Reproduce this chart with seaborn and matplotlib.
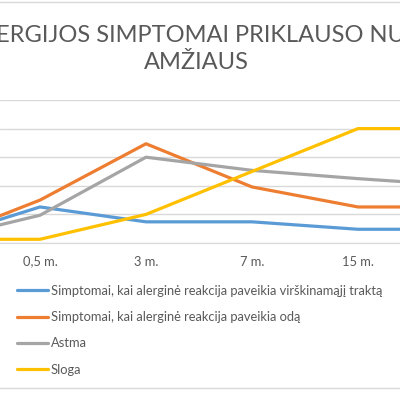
import pandas as pd
import seaborn as sns
import matplotlib.pyplot as plt
from matplotlib.lines import Line2D

# ages on the category axis (first and last fall outside the visible crop)
ages = ['0 m.', '0,5 m.', '3 m.', '7 m.', '15 m.', '20 m.']
series_names = ['Simptomai, kai alerginė reakcija paveikia virškinamąjį traktą',
                'Simptomai, kai alerginė reakcija paveikia odą',
                'Astma',
                'Sloga']
digestive = [1.0, 12.6, 7.4, 7.4, 4.8, 4.8]
skin = [0.5, 15.0, 34.7, 19.6, 12.6, 12.6]
asthma = [0.8, 9.7, 30.0, 25.4, 22.5, 20.0]
rhinitis = [1.3, 1.3, 10.0, 25.0, 40.0, 40.0]
colors = ['#5B9BD5', '#ED7D31', '#A5A5A5', '#FFC000']

rows = []
for name, vals in zip(series_names, [digestive, skin, asthma, rhinitis]):
    for age, v in zip(ages, vals):
        rows.append({'age': age, 'value': v, 'series': name})
df = pd.DataFrame(rows)

sns.set_style('white')
plt.rcParams['font.family'] = ['Lato', 'DejaVu Sans']

fig = plt.figure(figsize=(4, 3.93), dpi=100)
H = 393
ax = fig.add_axes([0, (H - 243) / H, 1, (243 - 100) / H])

sns.lineplot(data=df, x='age', y='value', hue='series', palette=colors,
             linewidth=2.3, sort=False, legend=False, ax=ax)

ax.set_xlim(0.6226, 4.3962)
ax.set_ylim(0, 50)
ax.set_yticks([0, 10, 20, 30, 40, 50])
ax.set_yticklabels([])
ax.grid(axis='y', color='#D9D9D9', linewidth=1)
ax.set_axisbelow(True)
for s in ['left', 'right', 'top']:
    ax.spines[s].set_visible(False)
ax.spines['bottom'].set_color('#D9D9D9')
ax.tick_params(axis='both', length=0)
ax.tick_params(axis='x', colors='#595959', labelsize=9.3, pad=9)
ax.set_xlabel('')
ax.set_ylabel('')

fig.text(0.49, 1 - 25 / H, 'ALERGIJOS SIMPTOMAI PRIKLAUSO NUO\nAMŽIAUS',
         ha='center', va='top', fontsize=17, color='#595959', linespacing=1.38)

handles = [Line2D([], [], color=c, linewidth=2.3) for c in colors]
fig.legend(handles, series_names, loc='upper left',
           bbox_to_anchor=(17 / 400, 1 - 285 / H), frameon=False,
           fontsize=9.3, labelcolor='#595959', handlelength=2.4,
           handletextpad=0.2, labelspacing=1.1, borderpad=0, borderaxespad=0)

fig.add_artist(Line2D([0, 1], [1 - 2.3 / H, 1 - 2.3 / H], color='#D9D9D9', linewidth=1))
fig.add_artist(Line2D([0, 1], [1 - 388 / H, 1 - 388 / H], color='#D9D9D9', linewidth=1))

fig.savefig('out.png', dpi=100)
